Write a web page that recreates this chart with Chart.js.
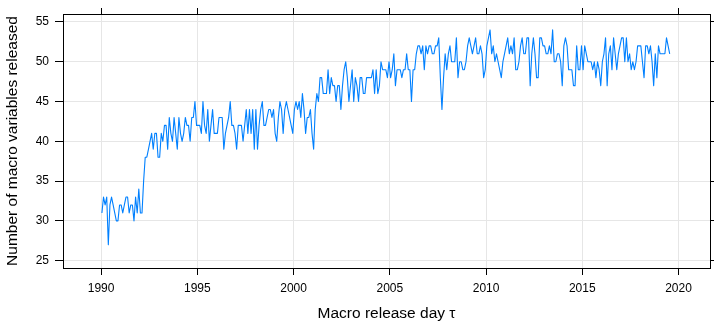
<!DOCTYPE html>
<html>
<head>
<meta charset="utf-8">
<script src="https://cdn.jsdelivr.net/npm/chart.js@4.4.1/dist/chart.umd.min.js"></script>
<style>
  html, body { margin: 0; padding: 0; background: #fff; }
  canvas { display: block; }
</style>
</head>
<body>
<canvas id="chart" width="714" height="321"></canvas>
<script>
// Monthly number of macro variables released, January 1990 onwards.
const counts1990s = [
  31,33,32,33,27,32,33,32,31,30,30,32,   // 1990
  32,31,32,33,33,31,32,32,30,33,31,34,   // 1991
  31,31,35,38,38,39,40,41,39,41,41,38,   // 1992
  38,41,40,42,42,39,43,41,40,43,41,39,   // 1993
  43,41,40,41,43,42,42,40,43,43,45,42,   // 1994
  42,42,41,45,42,41,44,40,42,44,41,41,   // 1995
  41,43,43,43,39,41,42,43,45,42,42,41,   // 1996
  39,42,42,42,40,42,44,41,44,41,44,39,   // 1997
  44,39,42,44,45,42,42,43,44,44,43,44,   // 1998
  41,40,43,45,44,41,44,45,44,43,42,41    // 1999
];
const counts2000s = [
  44,45,44,45,43,46,44,41,43,43,44,41,   // 2000
  39,44,46,45,48,48,46,46,46,49,46,48,   // 2001
  47,47,45,47,47,44,47,49,50,48,45,47,   // 2002
  49,45,48,47,45,48,48,46,46,48,48,48,   // 2003
  48,49,46,49,46,47,50,49,49,49,48,50,   // 2004
  48,49,51,47,49,49,49,48,49,49,51,49,   // 2005
  49,45,49,49,51,52,52,51,52,49,52,51,   // 2006
  52,52,51,51,52,52,53,48,44,48,51,49,   // 2007
  51,52,50,50,50,53,48,50,50,49,49,50,   // 2008
  52,53,52,51,52,53,51,51,52,51,48,49    // 2009
];
const counts2010s = [
  52,53,54,51,52,50,51,50,49,48,50,51,   // 2010
  52,53,51,52,51,53,49,49,50,52,53,51,   // 2011
  51,53,53,47,51,53,51,48,48,53,53,52,   // 2012
  52,51,51,52,51,54,50,50,51,51,50,47,   // 2013
  52,53,52,49,49,49,47,47,52,49,49,52,   // 2014
  49,52,51,50,50,50,49,50,48,50,49,47,   // 2015
  50,51,53,47,51,52,49,53,51,49,51,52,   // 2016
  53,53,50,53,50,51,49,50,49,50,52,52,   // 2017
  52,50,48,52,52,51,52,50,47,51,48,52,   // 2018
  51,51,51,51,53,52,51                   // 2019 (Jan-Jul)
];
const firstYear = 1990;
const xTickValues = [1990, 1995, 2000, 2005, 2010, 2015, 2020];
const yTickValues = [25, 30, 35, 40, 45, 50, 55];

const counts = counts1990s.concat(counts2000s, counts2010s);
// each release month placed at its middle, as a decimal year
const releaseTimes = counts.map((_, i) => firstYear + (i + 0.5) / 12);
const points = counts.map((v, i) => ({ x: releaseTimes[i], y: v }));

const FONT = "'Liberation Sans', Arial, Helvetica, sans-serif";
const INK = '#000000';
const GRID = '#e6e6e6';
const X_RANGE = { min: 1988.02, max: 2021.635 };
const Y_RANGE = { min: 24.08, max: 56.0 };

const fixedTicks = values => axis => {
  axis.ticks = values.map(v => ({ value: v }));
};

new Chart(document.getElementById('chart'), {
  type: 'line',
  data: {
    datasets: [{
      data: points,
      borderColor: '#0080ff',
      borderWidth: 1.1,
      borderJoinStyle: 'round',
      pointRadius: 0,
      pointHoverRadius: 0,
      tension: 0,
      fill: false
    }]
  },
  options: {
    responsive: false,
    devicePixelRatio: 1,
    animation: false,
    events: [],
    layout: { padding: 0 },
    plugins: {
      legend: { display: false },
      tooltip: { enabled: false }
    },
    scales: {
      x: {
        type: 'linear',
        position: 'bottom',
        ...X_RANGE,
        afterBuildTicks: fixedTicks(xTickValues),
        afterFit: s => { s.height = 53; },
        grid: { color: GRID, lineWidth: 1, tickColor: INK, tickLength: 7, tickWidth: 1 },
        border: { display: true, color: INK, width: 1 },
        ticks: {
          color: INK,
          font: { family: FONT, size: 12 },
          padding: 6,
          maxRotation: 0,
          autoSkip: false,
          callback: v => String(v)
        },
        title: {
          display: true,
          text: 'Macro release day τ',
          color: INK,
          font: { family: FONT, size: 15.5, lineHeight: 1 },
          padding: { top: 0, bottom: 0 }
        }
      },
      y: {
        type: 'linear',
        position: 'left',
        ...Y_RANGE,
        afterBuildTicks: fixedTicks(yTickValues),
        afterFit: s => { s.width = 63; },
        grid: { color: GRID, lineWidth: 1, tickColor: INK, tickLength: 8, tickWidth: 1 },
        border: { display: true, color: INK, width: 1 },
        ticks: {
          color: INK,
          font: { family: FONT, size: 12 },
          padding: 6,
          autoSkip: false,
          callback: v => String(v)
        },
        title: {
          display: true,
          text: 'Number of macro variables released',
          color: INK,
          font: { family: FONT, size: 15.5, lineHeight: 1 },
          padding: { top: 5, bottom: 0 }
        }
      },
      xTop: {
        type: 'linear',
        position: 'top',
        ...X_RANGE,
        afterBuildTicks: fixedTicks(xTickValues),
        afterFit: s => { s.height = 14; },
        grid: { drawOnChartArea: false, tickColor: INK, tickLength: 6, tickWidth: 1 },
        border: { display: true, color: INK, width: 1 },
        ticks: { display: false }
      },
      yRight: {
        type: 'linear',
        position: 'right',
        ...Y_RANGE,
        afterBuildTicks: fixedTicks(yTickValues),
        afterFit: s => { s.width = 4; },
        grid: { drawOnChartArea: false, tickColor: INK, tickLength: 4, tickWidth: 1 },
        border: { display: true, color: INK, width: 1 },
        ticks: { display: false }
      }
    }
  }
});
</script>
</body>
</html>
